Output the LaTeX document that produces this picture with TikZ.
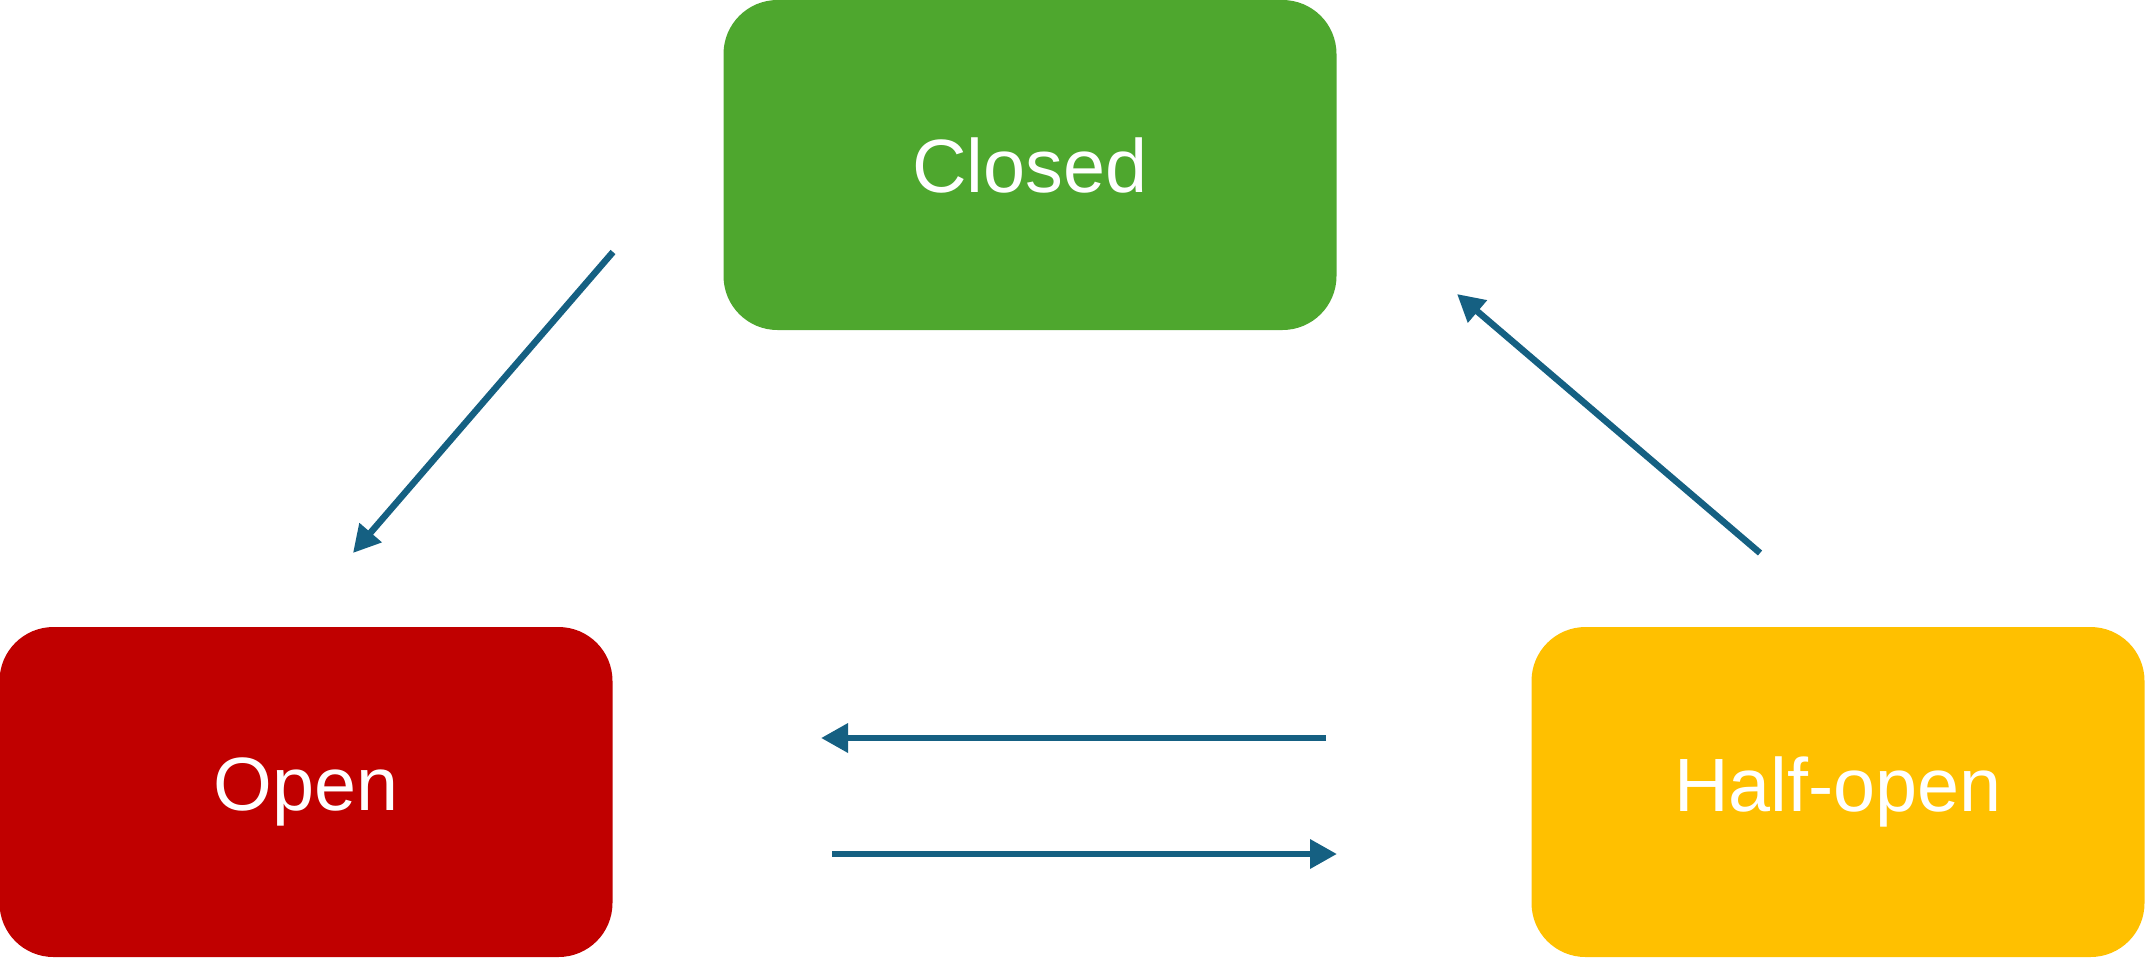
\documentclass[tikz,border=0pt]{standalone}
\usepackage{fontspec}
\setmainfont{Liberation Sans}
\usepackage{xcolor}
\usepackage{tikz}
\usetikzlibrary{arrows.meta}

\definecolor{closedgreen}{HTML}{4EA72E}
\definecolor{openred}{HTML}{C00000}
\definecolor{halfyellow}{HTML}{FFC000}
\definecolor{arrowblue}{HTML}{156082}

\tikzset{
    statebox/.style={rounded corners=0.54cm, minimum width=6.13cm, minimum height=3.30cm,
        inner sep=0pt, text=white, font=\fontsize{21.5}{26}\selectfont},
    trans/.style={-{Triangle[length=0.27cm, width=0.28cm]}, line width=0.065cm, draw=arrowblue}
}

\begin{document}
\begin{tikzpicture}
        \useasboundingbox (0,0) rectangle (21.45,9.57);
        % circuit breaker states
        \node[statebox, fill=closedgreen] (closed) at (10.30,7.92) {Closed};
        \node[statebox, fill=openred] (open) at (3.06,1.65) {Open};
        \node[statebox, fill=halfyellow] (halfopen) at (18.38,1.65) {Half-open};

        \coordinate (c2o-a) at (6.13,7.05);
        \coordinate (c2o-b) at (3.53,4.04);
        \coordinate (h2c-a) at (17.60,4.04);
        \coordinate (h2c-b) at (14.57,6.63);
        \coordinate (h2o-a) at (13.26,2.19);
        \coordinate (h2o-b) at (8.21,2.19);
        \coordinate (o2h-a) at (8.32,1.03);
        \coordinate (o2h-b) at (13.37,1.03);

        \draw[trans] (c2o-a) -- (c2o-b);
        \draw[trans] (h2c-a) -- (h2c-b);
        \draw[trans] (h2o-a) -- (h2o-b);
        \draw[trans] (o2h-a) -- (o2h-b);
    \end{tikzpicture}
\end{document}
